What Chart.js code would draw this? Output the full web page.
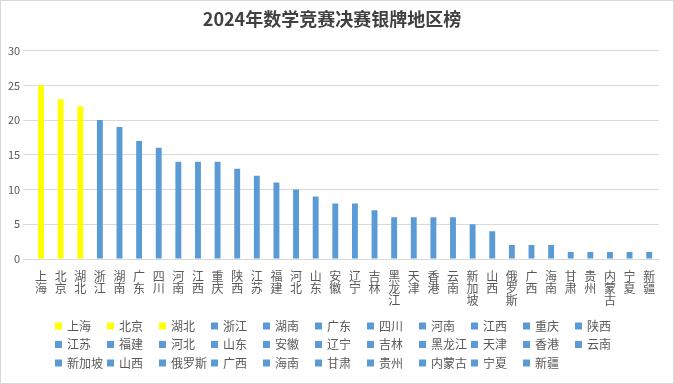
<!DOCTYPE html>
<html>
<head>
<meta charset="utf-8">
<script src="https://cdn.jsdelivr.net/npm/chart.js@4"></script>
<style>
html, body { margin: 0; padding: 0; background: #fff; }
#wrap { width: 674px; height: 384px; box-sizing: border-box; border: 1px solid #d9d9d9; }
</style>
</head>
<body>
<div id="wrap"><canvas id="myChart" width="672" height="382"></canvas></div>
<script>
// 2024 数学竞赛决赛 银牌 地区榜
var regions = ["上海","北京","湖北","浙江","湖南","广东","四川","河南","江西","重庆","陕西",
               "江苏","福建","河北","山东","安徽","辽宁","吉林","黑龙江","天津","香港","云南",
               "新加坡","山西","俄罗斯","广西","海南","甘肃","贵州","内蒙古","宁夏","新疆"];
var silverCount = [25,23,22,20,19,17,16,14,14,14,13,
                   12,11,10,9,8,8,7,6,6,6,6,
                   5,4,2,2,2,1,1,1,1,1];
var highlighted = ["上海","北京","湖北"];
var yTicks = [0,5,10,15,20,25,30];

var fontFamily = '"Noto Sans CJK SC", "Microsoft YaHei", sans-serif';
var barColors = regions.map(function (r) {
  return highlighted.indexOf(r) >= 0 ? "#ffff00" : "#5b9bd5";
});

/* legend laid out as a fixed grid, like the office chart */
var gridLegend = {
  id: 'gridLegend',
  afterDraw: function (chart) {
    var ctx = chart.ctx;
    var labels = chart.data.labels;
    var colors = chart.data.datasets[0].backgroundColor;
    ctx.save();
    ctx.font = '12px ' + fontFamily;
    ctx.textBaseline = 'middle';
    labels.forEach(function (name, i) {
      var col = i % 11, row = Math.floor(i / 11);
      var x = 54 + col * 52, y = 325 + row * 18.5;
      ctx.fillStyle = colors[i];
      ctx.fillRect(x, y - 3.5, 7, 7);
      ctx.fillStyle = '#595959';
      ctx.fillText(name, x + 12, y);
    });
    ctx.restore();
  }
};

var ctx = document.getElementById('myChart').getContext('2d');
var myChart = new Chart(ctx, {
  type: 'bar',
  data: {
    labels: regions,
    datasets: [{
      label: '银牌',
      data: silverCount,
      backgroundColor: barColors,
      barPercentage: 0.3,
      categoryPercentage: 1
    }]
  },
  options: {
    responsive: false,
    animation: false,
    devicePixelRatio: 1,
    layout: { padding: { left: 4, right: 14, top: 0, bottom: 74 } },
    plugins: {
      legend: { display: false },
      tooltip: { enabled: false },
      title: {
        display: true,
        text: '2024年数学竞赛决赛银牌地区榜',
        color: '#404040',
        font: { family: fontFamily, size: 18, weight: 'bold' },
        padding: { top: 7, bottom: 21 }
      }
    },
    scales: {
      x: {
        grid: { display: false },
        border: { color: '#d9d9d9' },
        ticks: {
          color: '#595959',
          font: { family: fontFamily, size: 12, lineHeight: 1.0 },
          maxRotation: 0,
          autoSkip: false,
          callback: function (v, i) { return regions[i].split(''); }
        }
      },
      y: {
        min: 0,
        max: 30,
        afterBuildTicks: function (axis) {
          axis.ticks = yTicks.map(function (v) { return { value: v }; });
        },
        grid: { color: '#d9d9d9' },
        border: { display: false },
        ticks: {
          color: '#595959',
          font: { family: fontFamily, size: 11 }
        }
      }
    }
  },
  plugins: [gridLegend]
});
</script>
</body>
</html>
